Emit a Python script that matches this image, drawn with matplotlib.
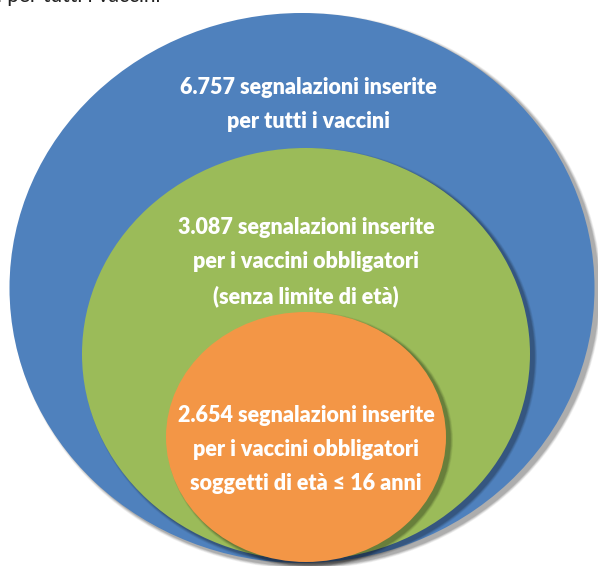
import matplotlib
matplotlib.use("Agg")
from matplotlib import pyplot as plt
from matplotlib.patches import Ellipse

# Nested sets of reports (segnalazioni)
counts = ["6.757", "3.087", "2.654"]
descriptions = [
    ["per tutti i vaccini"],
    ["per i vaccini obbligatori", "(senza limite di età)"],
    ["per i vaccini obbligatori", "soggetti di età \u2264 16 anni"],
]
colors = ["#4F81BD", "#9BBB59", "#F39646"]

# geometry in pixels (x center, y center, width, height)
shapes = [(302, 288, 585, 550), (306, 354, 448, 412), (306, 437, 280, 250)]
text_tops = [87, 228, 416]
line_step = 34

fig = plt.figure(figsize=(5.98, 5.66), dpi=100)
ax = fig.add_axes([0, 0, 1, 1])
ax.set_xlim(0, 598)
ax.set_ylim(566, 0)
ax.axis("off")

font = ["Lato", "DejaVu Sans"]

for i, (cx, cy, w, h) in enumerate(shapes):
    # soft shadow, offset to the lower right
    for k, a in enumerate([0.06, 0.08, 0.10, 0.12]):
        grow = 6 - 1.5 * k
        ax.add_patch(Ellipse((cx + 4, cy + 3), w + grow, h + grow,
                             facecolor="black", edgecolor="none", alpha=a, zorder=2 * i + 1))
    ax.add_patch(Ellipse((cx, cy), w, h, facecolor=colors[i], edgecolor="none", zorder=2 * i + 2))

    lines = [counts[i] + " segnalazioni inserite"] + descriptions[i]
    for j, line in enumerate(lines):
        ax.text(cx + (6 if i == 0 else 0), text_tops[i] + j * line_step, line,
                ha="center", va="center", color="white", fontsize=15.5,
                fontweight="heavy", family=font, zorder=10)

# caption cut off by the top edge of the picture
ax.text(-3, 2, "i per tutti i vaccini", ha="left", va="baseline", color="#222222",
        fontsize=15, family=font, zorder=10)

fig.savefig("out.png", dpi=100)
